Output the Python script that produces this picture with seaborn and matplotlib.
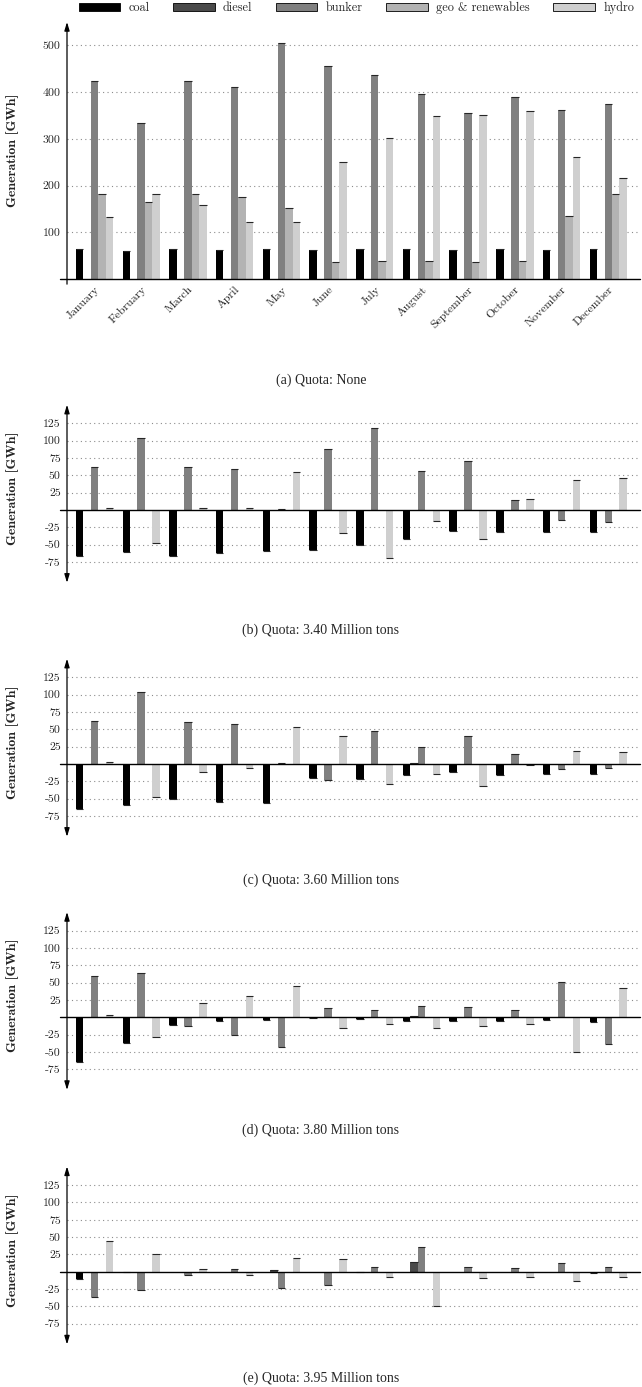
import matplotlib
matplotlib.use("Agg")
import matplotlib.pyplot as plt
from matplotlib.patches import Patch
import pandas as pd
import seaborn as sns

# values, GWh
months = ["January", "February", "March", "April", "May", "June", "July",
          "August", "September", "October", "November", "December"]
sources = ["coal", "diesel", "bunker", "geo & renewables", "hydro"]

# (a) no quota: absolute generation
coal_a = [64, 59, 64, 62, 64, 62, 64, 64, 62, 64, 62, 64]
diesel_a = [0, 0, 0, 0, 0, 0, 0, 0, 0, 0, 0, 0]
bunker_a = [423, 334, 424, 410, 505, 455, 437, 396, 355, 389, 361, 374]
geo_a = [182, 164, 181, 176, 153, 37, 38, 38, 37, 38, 134, 181]
hydro_a = [133, 181, 159, 122, 121, 250, 301, 349, 351, 359, 261, 216]

# (b)-(e): difference to no quota
coal_b = [-66, -60, -66, -62, -59, -57, -51, -42, -30, -31, -31, -31]
diesel_b = [0, 0, 0, 0, 0, 0, 0, 0, 0, 0, 0, 0]
bunker_b = [62, 104, 62, 59, 2, 88, 118, 56, 71, 14, -14, -17]
geo_b = [0, 0, 0, 0, 0, 0, 0, 0, 0, 0, 0, 0]
hydro_b = [3, -47, 3, 3, 55, -33, -69, -16, -42, 16, 43, 46]

coal_c = [-65, -59, -51, -55, -56, -20, -22, -16, -12, -16, -15, -14]
diesel_c = [0, 0, 0, 0, 0, 0, 0, 2, 0, 0, 0, 0]
bunker_c = [62, 104, 61, 58, 2, -23, 48, 25, 40, 15, -7, -5]
geo_c = [0, 0, 0, 0, 0, 0, 0, 0, 0, 0, 0, 0]
hydro_c = [3, -48, -12, -5, 53, 41, -29, -14, -31, -2, 19, 17]

coal_d = [-64, -37, -11, -6, -4, -1, -3, -5, -5, -5, -4, -7]
diesel_d = [0, 0, 0, 0, 0, 0, 0, 2, 0, 0, 0, 0]
bunker_d = [59, 64, -13, -26, -43, 14, 10, 17, 15, 10, 51, -38]
geo_d = [0, 0, 0, 0, 0, 0, 0, 0, 0, 0, 0, 0]
hydro_d = [4, -29, 21, 30, 45, -15, -9, -16, -12, -9, -50, 42]

coal_e = [-10, -1, 0, 0, 0, 0, -1, 0, 0, 0, 0, -2]
diesel_e = [0, 0, 0, 0, 2, 0, 0, 14, 0, 0, 0, 0]
bunker_e = [-37, -26, -5, 4, -23, -19, 7, 35, 7, 6, 13, 7]
geo_e = [0, 0, 0, 0, 0, 0, 0, 0, 0, 0, 0, 0]
hydro_e = [44, 26, 4, -5, 20, 18, -8, -50, -9, -7, -14, -8]

colors = {"coal": "#000000", "diesel": "#4a4a4a", "bunker": "#808080",
          "geo & renewables": "#b3b3b3", "hydro": "#cfcfcf"}

W, H = 642, 1387


def to_frame(series):
    rows = []
    for source, values in zip(sources, series):
        for month, v in zip(months, values):
            rows.append({"month": month, "source": source, "value": v})
    return pd.DataFrame(rows)


def draw(fig, series, top, bottom, ylim, yticks, caption, caption_y, first):
    left, right = 67, 640
    ax = fig.add_axes([left / W, 1 - bottom / H, (right - left) / W, (bottom - top) / H])
    data = to_frame(series)
    sns.barplot(data=data, x="month", y="value", hue="source", order=months,
                hue_order=sources, palette=colors, width=0.8, saturation=1,
                errorbar=None, linewidth=0, edgecolor="none", legend=False, ax=ax)

    # darker edge at the end of every bar
    for p in list(ax.patches):
        h = p.get_height()
        if h == 0:
            continue
        y_end = p.get_y() + h
        ax.plot([p.get_x(), p.get_x() + p.get_width()], [y_end, y_end],
                color="#262626", lw=0.8, solid_capstyle="butt", zorder=3)

    ax.set_xlim(-0.589, 11.68)
    ax.set_ylim(*ylim)
    ax.set_yticks(yticks)
    for s in ax.spines.values():
        s.set_visible(False)
    ax.yaxis.grid(True, linestyle=(0, (1, 3)), color="#8c8c8c", lw=0.8)
    ax.set_axisbelow(True)
    ax.axhline(0, xmin=-7 / (right - left), xmax=1, color="k", lw=1.0,
               clip_on=False, zorder=4)
    if first:
        ax.annotate("", xy=(0, 1), xytext=(0, -0.02), xycoords="axes fraction",
                    arrowprops=dict(arrowstyle="-|>,head_width=0.15,head_length=0.5",
                                    lw=0.9, color="k", shrinkA=0, shrinkB=0))
    else:
        ax.annotate("", xy=(0, 1), xytext=(0, 0), xycoords="axes fraction",
                    arrowprops=dict(arrowstyle="<|-|>,head_width=0.15,head_length=0.5",
                                    lw=0.9, color="k", shrinkA=0, shrinkB=0))
    ax.tick_params(axis="y", direction="inout", length=5, width=0.8,
                   labelsize=8.5, pad=2)

    if first:
        ax.set_xticks(range(len(months)))
        ax.set_xticklabels(months, rotation=45, ha="right", rotation_mode="anchor",
                           fontsize=8.5)
        ax.tick_params(axis="x", length=0, pad=4)
    else:
        ax.set_xticks([])
    ax.set_xlabel("")
    ax.set_ylabel("Generation [GWh]", fontfamily=["cmb10", "DejaVu Serif"], fontsize=10)
    ax.yaxis.set_label_coords(-0.084, 0.5 if first else 0.53)

    fig.text(0.5, 1 - caption_y / H, caption, ha="center", va="center",
             fontfamily="Liberation Serif", fontsize=10)
    return ax


def main():
    sns.set_style("white")
    plt.rcParams["font.family"] = ["cmr10", "DejaVu Serif"]
    plt.rcParams["axes.unicode_minus"] = False

    fig = plt.figure(figsize=(W / 100, H / 100), dpi=100)

    diff_ticks = [-75, -50, -25, 25, 50, 75, 100, 125]
    draw(fig, [coal_a, diesel_a, bunker_a, geo_a, hydro_a], 22, 279, (0, 550),
         [100, 200, 300, 400, 500], "(a) Quota: None", 380, True)
    draw(fig, [coal_b, diesel_b, bunker_b, geo_b, hydro_b], 404.7, 582.8, (-105, 152),
         diff_ticks, "(b) Quota: 3.40 Million tons", 630, False)
    draw(fig, [coal_c, diesel_c, bunker_c, geo_c, hydro_c], 658.7, 836.8, (-105, 152),
         diff_ticks, "(c) Quota: 3.60 Million tons", 880, False)
    draw(fig, [coal_d, diesel_d, bunker_d, geo_d, hydro_d], 912, 1090, (-105, 152),
         diff_ticks, "(d) Quota: 3.80 Million tons", 1130, False)
    draw(fig, [coal_e, diesel_e, bunker_e, geo_e, hydro_e], 1166.4, 1344.5, (-105, 152),
         diff_ticks, "(e) Quota: 3.95 Million tons", 1378, False)

    handles = [Patch(facecolor=colors[s], edgecolor="k", linewidth=0.6) for s in sources]
    fig.legend(handles, sources, loc="center", bbox_to_anchor=(0.555, 1 - 8 / H),
               ncol=5, frameon=False, fontsize=8.8, handlelength=3.4, handleheight=0.6,
               handletextpad=0.7, columnspacing=1.9, borderpad=0.1)

    fig.savefig("out.png", dpi=100)


if __name__ == "__main__":
    main()
